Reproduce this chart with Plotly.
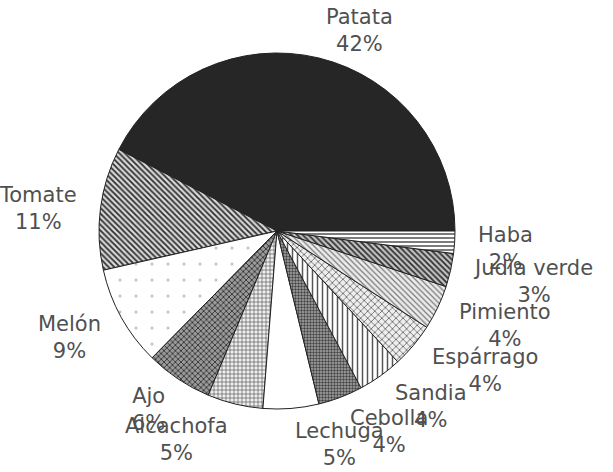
import numpy as np
import plotly.graph_objects as go

# Superficie cultivada por hortaliza (%)
cultivos = ["Patata", "Tomate", "Melón", "Ajo", "Alcachofa", "Lechuga",
            "Cebolla", "Sandia", "Espárrago", "Pimiento", "Judia verde", "Haba"]
porcentajes = [42, 11, 9, 6, 5, 5, 4, 4, 4, 4, 3, 2]

# Relleno de cada sector (tramas en blanco y negro)
formas = ["", "\\", ".", "x", "+", "", ".", "|", "x", "\\", "\\", "-"]
color_fondo = ["#262626", "#d8d8d8", "#ffffff", "#9a9a9a", "#eeeeee", "#ffffff",
               "#a8a8a8", "#ffffff", "#eeeeee", "#ececec", "#c4c4c4", "#ffffff"]
color_trama = ["#262626", "#2e2e2e", "#c4c4c4", "#333333", "#555555", "#ffffff",
               "#444444", "#555555", "#666666", "#777777", "#2e2e2e", "#444444"]
tam_trama = [8, 4, 16, 4, 4, 8, 3, 5, 5, 4, 4, 4]
solidez = [0.3, 0.45, 0.03, 0.4, 0.3, 0.3, 0.5, 0.3, 0.3, 0.3, 0.45, 0.35]

W, H = 613, 472
cx, cy, R = 277, 231, 178  # centro y radio del círculo en píxeles

vals = np.array(porcentajes, dtype=float)
frac = vals / vals.sum()

# El primer sector (Patata) arranca en las 3 en punto y gira en sentido antihorario
giro = 90 - frac[0] * 360.0

fig = go.Figure(go.Pie(
    labels=cultivos,
    values=porcentajes,
    sort=False,
    direction="counterclockwise",
    rotation=giro,
    textinfo="none",
    hoverinfo="label+value",
    marker=dict(
        colors=color_fondo,
        line=dict(color="#222222", width=1),
        pattern=dict(shape=formas, fgcolor=color_trama, bgcolor=color_fondo,
                     size=tam_trama, solidity=solidez, fillmode="replace"),
    ),
    domain=dict(x=[(cx - R) / W, (cx + R) / W],
                y=[1 - (cy + R) / H, 1 - (cy - R) / H]),
    showlegend=False,
))

# Etiquetas exteriores: nombre y porcentaje junto al ángulo medio de cada sector
fin = np.cumsum(frac) * 360.0
medio = np.radians(fin - frac * 180.0)
rx, ry = 1.12 * R, 1.18 * R
ly = cy + 4  # centro vertical del anillo de etiquetas
anotaciones = []
for nombre, v, a in zip(cultivos, porcentajes, medio):
    px = cx + rx * np.cos(a)
    py = ly - ry * np.sin(a)
    anotaciones.append(dict(
        x=px / W, y=1 - py / H, xref="paper", yref="paper",
        text=f"{nombre}<br>{v}%", showarrow=False,
        xanchor="left" if np.cos(a) >= 0 else "right", yanchor="middle",
        align="center",
        font=dict(family="DejaVu Sans", size=21, color="#505050"),
    ))

fig.update_layout(
    width=W, height=H,
    margin=dict(l=0, r=0, t=0, b=0),
    paper_bgcolor="white", plot_bgcolor="white",
    annotations=anotaciones,
)

fig.write_html("out.html")
